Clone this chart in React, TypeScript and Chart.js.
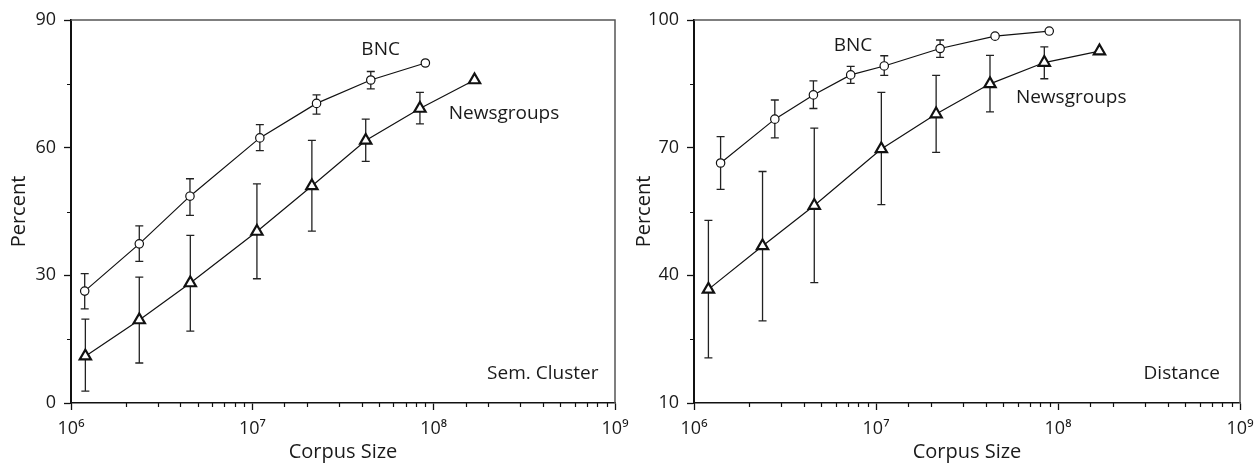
import React, { useEffect, useRef } from 'react';
import { Chart, registerables } from 'chart.js';

Chart.register(...registerables);

// ---------- Data ----------
// Left panel: "Sem. Cluster"
const semBncSize = [1.19e6, 2.38e6, 4.53e6, 1.1e7, 2.26e7, 4.5e7, 9.0e7];
const semBncPct = [26.3, 37.4, 48.6, 62.3, 70.4, 75.9, 79.9];
const semBncHi = [30.4, 41.6, 52.7, 65.4, 72.4, 77.9, null];
const semBncLo = [22.1, 33.3, 44.1, 59.3, 67.9, 73.8, null];

const semNewsSize = [1.2e6, 2.38e6, 4.55e6, 1.06e7, 2.13e7, 4.22e7, 8.4e7, 1.68e8];
const semNewsPct = [11.0, 19.5, 28.2, 40.3, 51.0, 61.7, 69.2, 75.9];
const semNewsHi = [19.7, 29.6, 39.4, 51.5, 61.7, 66.7, 73.0, null];
const semNewsLo = [2.8, 9.4, 16.9, 29.2, 40.4, 56.8, 65.6, null];

// Right panel: "Distance"
const distBncSize = [1.4e6, 2.78e6, 4.53e6, 7.26e6, 1.11e7, 2.25e7, 4.51e7, 8.95e7];
const distBncPct = [66.4, 76.7, 82.4, 87.1, 89.2, 93.3, 96.2, 97.4];
const distBncHi = [72.6, 81.2, 85.7, 89.1, 91.6, 95.3, null, null];
const distBncLo = [60.2, 72.3, 79.2, 85.1, 87.0, 91.2, null, null];

const distNewsSize = [1.2e6, 2.38e6, 4.58e6, 1.07e7, 2.14e7, 4.23e7, 8.41e7, 1.69e8];
const distNewsPct = [36.7, 46.9, 56.4, 69.7, 77.9, 85.0, 90.0, 92.7];
const distNewsHi = [52.9, 64.4, 74.6, 83.0, 87.0, 91.7, 93.7, null];
const distNewsLo = [20.6, 29.3, 38.3, 56.6, 68.9, 78.4, 86.2, null];

const xTickLabels: Record<number, string> = { 6: '10⁶', 7: '10⁷', 8: '10⁸', 9: '10⁹' };
const semYLabels = [0, 30, 60, 90];
const distYLabels = [10, 40, 70, 100];

const semNotes = [
  { text: 'BNC', x: 5.1e7, y: 83, align: 'center' },
  { text: 'Newsgroups', x: 1.21e8, y: 68, align: 'left' },
  { text: 'Sem. Cluster', x: 8.1e8, y: 7, align: 'right' },
];
const distNotes = [
  { text: 'BNC', x: 7.48e6, y: 94.1, align: 'center' },
  { text: 'Newsgroups', x: 5.87e7, y: 81.7, align: 'left' },
  { text: 'Distance', x: 7.76e8, y: 17, align: 'right' },
];

// ---------- Styling ----------
const FONT_FAMILY = '"Open Sans", "Noto Sans", sans-serif';
const TEXT = '#1a1a1a';
const INK = '#111';

const isDecade = (v: number) => {
  const l = Math.log10(v);
  return Math.abs(l - Math.round(l)) < 1e-9;
};

const errorBarPlugin = {
  id: 'errorBars',
  beforeDatasetsDraw(chart: any) {
    const { ctx } = chart;
    const xs = chart.scales.x;
    const ys = chart.scales.y;
    ctx.save();
    ctx.strokeStyle = '#222';
    ctx.lineWidth = 1.3;
    chart.data.datasets.forEach((ds: any) => {
      ds.data.forEach((p: any, i: number) => {
        const hi = ds.errHi[i];
        const lo = ds.errLo[i];
        if (hi == null || lo == null) return;
        const px = xs.getPixelForValue(p.x);
        const yh = ys.getPixelForValue(hi);
        const yl = ys.getPixelForValue(lo);
        ctx.beginPath();
        ctx.moveTo(px, yh);
        ctx.lineTo(px, yl);
        ctx.moveTo(px - 4, yh);
        ctx.lineTo(px + 4, yh);
        ctx.moveTo(px - 4, yl);
        ctx.lineTo(px + 4, yl);
        ctx.stroke();
      });
    });
    ctx.restore();
  },
};

const framePlugin = {
  id: 'frame',
  afterDraw(chart: any) {
    const { ctx, chartArea } = chart;
    const { left, right, top, bottom } = chartArea;
    ctx.save();
    ctx.strokeStyle = '#555';
    ctx.lineWidth = 1.5;
    ctx.beginPath();
    ctx.moveTo(left, top);
    ctx.lineTo(right, top);
    ctx.lineTo(right, bottom);
    ctx.stroke();
    // minor ticks
    ctx.strokeStyle = INK;
    ctx.lineWidth = 1.2;
    const xs = chart.scales.x;
    const ys = chart.scales.y;
    ctx.beginPath();
    xs.ticks.forEach((t: any) => {
      if (isDecade(t.value)) return;
      const px = Math.round(xs.getPixelForValue(t.value)) + 0.5;
      ctx.moveTo(px, bottom);
      ctx.lineTo(px, bottom + 4);
    });
    ys.ticks.forEach((t: any) => {
      if (chart.options.yLabels.includes(t.value)) return;
      const py = Math.round(ys.getPixelForValue(t.value)) + 0.5;
      ctx.moveTo(left, py);
      ctx.lineTo(left - 4, py);
    });
    ctx.stroke();
    ctx.restore();
  },
};

const notesPlugin = {
  id: 'notes',
  afterDatasetsDraw(chart: any) {
    const { ctx } = chart;
    const xs = chart.scales.x;
    const ys = chart.scales.y;
    ctx.save();
    ctx.fillStyle = TEXT;
    ctx.font = `19px ${FONT_FAMILY}`;
    ctx.textBaseline = 'middle';
    chart.options.notes.forEach((n: any) => {
      ctx.textAlign = n.align;
      ctx.fillText(n.text, xs.getPixelForValue(n.x), ys.getPixelForValue(n.y));
    });
    ctx.restore();
  },
};

type PanelSpec = {
  bncSize: number[]; bncPct: number[]; bncHi: (number | null)[]; bncLo: (number | null)[];
  newsSize: number[]; newsPct: number[]; newsHi: (number | null)[]; newsLo: (number | null)[];
  yMin: number; yMax: number; yLabels: number[]; notes: any[];
  yAxisWidth: number; rightPad: number; yTitlePad: number;
};

function buildConfig(s: PanelSpec): any {
  const font = { family: FONT_FAMILY, size: 18 };
  const titleFont = { family: FONT_FAMILY, size: 20 };
  return {
    type: 'line',
    data: {
      datasets: [
        {
          label: 'BNC',
          data: s.bncSize.map((x, i) => ({ x, y: s.bncPct[i] })),
          errHi: s.bncHi,
          errLo: s.bncLo,
          borderColor: INK,
          borderWidth: 1.2,
          pointStyle: 'circle',
          pointRadius: 4.2,
          pointBackgroundColor: '#fff',
          pointBorderColor: INK,
          pointBorderWidth: 1.2,
          fill: false,
          tension: 0,
        },
        {
          label: 'Newsgroups',
          data: s.newsSize.map((x, i) => ({ x, y: s.newsPct[i] })),
          errHi: s.newsHi,
          errLo: s.newsLo,
          borderColor: INK,
          borderWidth: 1.2,
          pointStyle: 'triangle',
          pointRadius: 6.5,
          pointBackgroundColor: '#fff',
          pointBorderColor: INK,
          pointBorderWidth: 2.2,
          fill: false,
          tension: 0,
        },
      ],
    },
    options: {
      responsive: false,
      animation: false,
      events: [],
      yLabels: s.yLabels,
      notes: s.notes,
      layout: { padding: { left: 0, right: s.rightPad, top: 20, bottom: 0 } },
      plugins: { legend: { display: false }, tooltip: { enabled: false } },
      scales: {
        x: {
          type: 'logarithmic',
          position: 'bottom',
          min: 1e6,
          max: 1e9,
          grid: {
            drawOnChartArea: false,
            tickLength: 7,
            tickWidth: 1.3,
            tickColor: (c: any) => (c.tick && isDecade(c.tick.value) ? INK : 'rgba(0,0,0,0)'),
          },
          border: { color: INK, width: 1.5 },
          ticks: {
            autoSkip: false,
            maxRotation: 0,
            minRotation: 0,
            padding: 8,
            color: TEXT,
            font,
            callback: (v: number) => (isDecade(v) ? xTickLabels[Math.round(Math.log10(v))] : ''),
          },
          title: { display: true, text: 'Corpus Size', color: TEXT, font: titleFont, padding: { top: 0, bottom: 1 } },
          afterFit: (sc: any) => {
            sc.height = 62;
            sc.paddingLeft = 0;
            sc.paddingRight = 0;
          },
        },
        y: {
          type: 'linear',
          position: 'left',
          min: s.yMin,
          max: s.yMax,
          grid: {
            drawOnChartArea: false,
            tickLength: 7,
            tickWidth: 1.3,
            tickColor: (c: any) => (c.tick && s.yLabels.includes(c.tick.value) ? INK : 'rgba(0,0,0,0)'),
          },
          border: { color: INK, width: 2 },
          ticks: {
            stepSize: 15,
            padding: 8,
            color: TEXT,
            font,
            callback: (v: number) => (s.yLabels.includes(v) ? String(v) : ''),
          },
          title: { display: true, text: 'Percent', color: TEXT, font: titleFont, padding: { top: s.yTitlePad, bottom: 0 } },
          afterFit: (sc: any) => {
            sc.width = s.yAxisWidth;
            sc.paddingTop = 0;
            sc.paddingBottom = 0;
          },
        },
      },
    },
    plugins: [errorBarPlugin, framePlugin, notesPlugin],
  };
}

const leftSpec: PanelSpec = {
  bncSize: semBncSize, bncPct: semBncPct, bncHi: semBncHi, bncLo: semBncLo,
  newsSize: semNewsSize, newsPct: semNewsPct, newsHi: semNewsHi, newsLo: semNewsLo,
  yMin: 0, yMax: 90, yLabels: semYLabels, notes: semNotes,
  yAxisWidth: 71, rightPad: 25, yTitlePad: 7,
};

const rightSpec: PanelSpec = {
  bncSize: distBncSize, bncPct: distBncPct, bncHi: distBncHi, bncLo: distBncLo,
  newsSize: distNewsSize, newsPct: distNewsPct, newsHi: distNewsHi, newsLo: distNewsLo,
  yMin: 10, yMax: 100, yLabels: distYLabels, notes: distNotes,
  yAxisWidth: 78, rightPad: 16, yTitlePad: 16,
};

function Panel({ spec, left, width }: { spec: PanelSpec; left: number; width: number }) {
  const ref = useRef<HTMLCanvasElement>(null);
  useEffect(() => {
    const chart = new Chart(ref.current as HTMLCanvasElement, buildConfig(spec));
    return () => chart.destroy();
  }, []);
  return (
    <canvas
      ref={ref}
      width={width}
      height={465}
      style={{ position: 'absolute', left, top: 0, width, height: 465 }}
    />
  );
}

export default function App() {
  return (
    <div style={{ position: 'absolute', left: 0, top: 0, width: 1256, height: 465, background: '#fff' }}>
      <Panel spec={leftSpec} left={0} width={640} />
      <Panel spec={rightSpec} left={616} width={640} />
    </div>
  );
}
